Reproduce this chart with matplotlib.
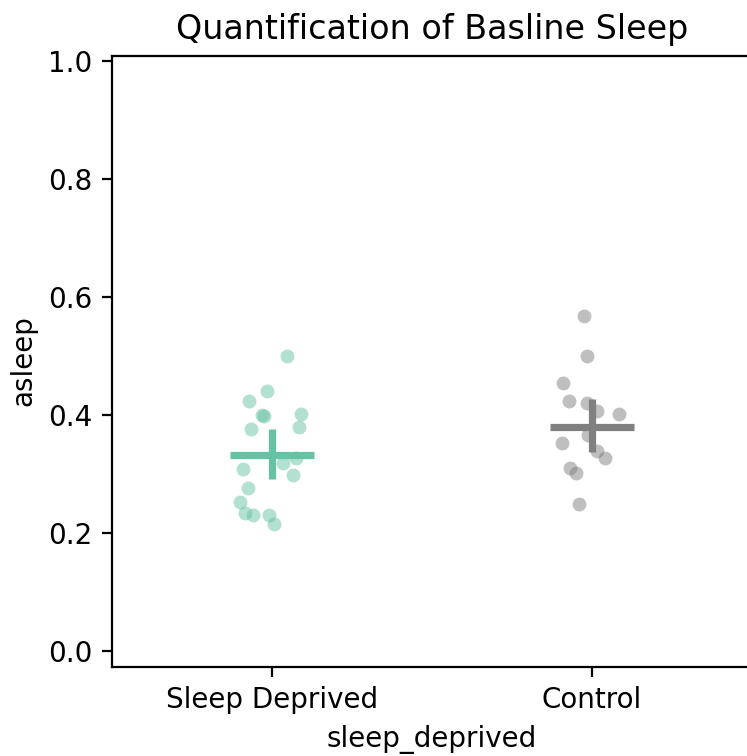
import matplotlib
matplotlib.use("Agg")
import matplotlib.pyplot as plt
import numpy as np

# values
groups = ["Sleep Deprived", "Control"]
colors = ["#66c2a5", "#808080"]

sd_asleep = [0.500, 0.441, 0.424, 0.400, 0.399, 0.401, 0.380, 0.376, 0.319,
             0.328, 0.308, 0.298, 0.276, 0.252, 0.234, 0.230, 0.230, 0.216]
sd_jitter = [0.048, -0.017, -0.073, -0.031, -0.025, 0.090, 0.084, -0.067, 0.035,
             0.075, -0.092, 0.067, -0.074, -0.100, -0.084, -0.058, -0.009, 0.007]

ctl_asleep = [0.568, 0.500, 0.455, 0.423, 0.421, 0.406, 0.402, 0.366, 0.353,
              0.339, 0.328, 0.311, 0.301, 0.250]
ctl_jitter = [-0.025, -0.017, -0.090, -0.072, -0.017, 0.015, 0.085, -0.011, -0.095,
              0.017, 0.041, -0.069, -0.050, -0.040]

means = [0.332, 0.379]
ci_low = [0.292, 0.338]
ci_high = [0.376, 0.427]

fig = plt.figure(figsize=(3.735, 3.78), dpi=200)
ax = fig.add_axes([112 / 747, 1 - 666.5 / 756, 640 / 747, 611 / 756])

data = [(sd_asleep, sd_jitter), (ctl_asleep, ctl_jitter)]
for i, (vals, jit) in enumerate(data):
    ax.scatter(i + np.array(jit), vals, s=25, color=colors[i], alpha=0.5,
               linewidth=0, zorder=2)
    ax.plot([i - 0.13, i + 0.13], [means[i], means[i]], color=colors[i],
            lw=2.6, solid_capstyle="butt", zorder=3)
    ax.plot([i, i], [ci_low[i], ci_high[i]], color=colors[i],
            lw=2.6, solid_capstyle="butt", zorder=3)

ax.set_xticks([0, 1])
ax.set_xticklabels(groups)
ax.set_xlim(-0.5, 1.5)
ax.set_ylim(-0.026, 1.009)
ax.set_yticks([0.0, 0.2, 0.4, 0.6, 0.8, 1.0])
ax.set_xlabel("sleep_deprived")
ax.set_ylabel("asleep")
ax.set_title("Quantification of Basline Sleep", fontsize=12)

fig.savefig("out.png", dpi=200)
